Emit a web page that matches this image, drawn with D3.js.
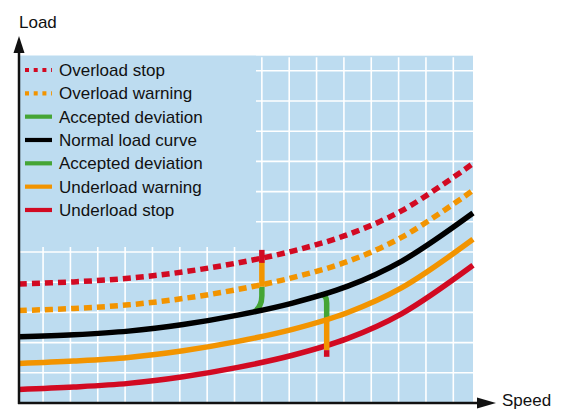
<!DOCTYPE html>
<html>
<head>
<meta charset="utf-8">
<script src="https://cdn.jsdelivr.net/npm/d3@7"></script>
<style>
  html, body { margin: 0; padding: 0; background: #fff; }
  svg { display: block; }
  text { font-family: "Liberation Sans", Arial, sans-serif; fill: #111; }
</style>
</head>
<body>
<svg id="chart" width="566" height="410"></svg>
<script>
// ---- data (speed in grid units from the origin, load in grid units) ----
const speeds           = [0,    2,    4,    6,    8,    10,   12,   14,   16.6];
const overloadStop     = [3.94, 4.01, 4.13, 4.34, 4.64, 5.03, 5.57, 6.37, 7.93];
const overloadWarning  = [3.06, 3.13, 3.25, 3.46, 3.76, 4.15, 4.68, 5.49, 7.04];
const normalLoad       = [2.19, 2.26, 2.38, 2.60, 2.91, 3.31, 3.86, 4.70, 6.29];
const underloadWarning = [1.31, 1.39, 1.51, 1.73, 2.04, 2.44, 2.99, 3.82, 5.42];
const underloadStop    = [0.45, 0.53, 0.65, 0.87, 1.18, 1.58, 2.13, 2.96, 4.56];

// deviation markers: [overload marker, underload marker]
const markerSpeeds     = [8.88, 11.25];
const markerJoinSpeeds = [8.60, 11.07];   // where the green arc meets the normal curve
const markerJoinLoads  = [3.02, 3.58];
const markerGreenEnds  = [3.85, 2.80];
const markerOrangeEnds = [4.74, 1.75];
const markerRedStarts  = [4.64, 1.75];
const markerRedEnds    = [5.07, 1.53];

const legendLabels = ["Overload stop", "Overload warning", "Accepted deviation",
  "Normal load curve", "Accepted deviation", "Underload warning", "Underload stop"];
const legendColors = ["#d20a22", "#f29400", "#45a535", "#000000", "#45a535", "#f29400", "#d20a22"];
const legendDashed = [true, true, false, false, false, false, false];

const axisLabels = ["Load", "Speed"];

// ---- drawing ----
const RED = "#d20a22", ORANGE = "#f29400", GREEN = "#45a535", BLACK = "#000000";
const BG = "#bddcf0";
const svg = d3.select("#chart");

const x = d3.scaleLinear().domain([0, 16.6]).range([19, 473]);
const y = d3.scaleLinear().domain([0, 11.5]).range([403, 55.7]);

// plot background
svg.append("rect").attr("x", x(0)).attr("y", y(11.5))
  .attr("width", x(16.6) - x(0)).attr("height", y(0) - y(11.5)).attr("fill", BG);

// grid
const gx = d3.range(0.88, 16.6, 1);
const gy = d3.range(1, 11.5, 1);
svg.append("g").selectAll("line").data(gx).join("line")
  .attr("x1", d => x(d)).attr("x2", d => x(d))
  .attr("y1", y(11.45)).attr("y2", y(0))
  .attr("stroke", "#fff").attr("stroke-width", 1.6);
svg.append("g").selectAll("line").data(gy).join("line")
  .attr("x1", x(0)).attr("x2", x(16.6))
  .attr("y1", d => y(d)).attr("y2", d => y(d))
  .attr("stroke", "#fff").attr("stroke-width", 1.6);

// legend box hides grid
svg.append("rect").attr("x", x(0) + 1).attr("y", y(11.5))
  .attr("width", 256 - x(0) - 1).attr("height", 247 - y(11.5)).attr("fill", BG);

// green arcs (under curves)
const arcs = svg.append("g");
markerSpeeds.forEach((s, i) => {
  const p = d3.path();
  if (markerGreenEnds[i] > markerJoinLoads[i]) {
    p.moveTo(x(s), y(markerGreenEnds[i]));
    p.lineTo(x(s), y(markerGreenEnds[i]) + 9);
    p.quadraticCurveTo(x(s), y(markerJoinLoads[i]) - 5, x(markerJoinSpeeds[i]), y(markerJoinLoads[i]));
  } else {
    p.moveTo(x(markerJoinSpeeds[i]), y(markerJoinLoads[i]));
    p.quadraticCurveTo(x(s), y(markerJoinLoads[i]), x(s), y(markerJoinLoads[i]) + 8);
    p.lineTo(x(s), y(markerGreenEnds[i]));
  }
  arcs.append("path").attr("d", p.toString()).attr("fill", "none")
    .attr("stroke", GREEN).attr("stroke-width", 5.5);
});

// curves
const line = d3.line().x(d => x(d[0])).y(d => y(d[1])).curve(d3.curveCatmullRom.alpha(0.5));
const series = [
  {vals: underloadStop, color: RED, dash: null},
  {vals: underloadWarning, color: ORANGE, dash: null},
  {vals: normalLoad, color: BLACK, dash: null},
  {vals: overloadWarning, color: ORANGE, dash: "8 5"},
  {vals: overloadStop, color: RED, dash: "8 5"}
];
series.forEach(s => {
  svg.append("path").datum(speeds.map((sp, i) => [sp, s.vals[i]]))
    .attr("d", line).attr("fill", "none")
    .attr("stroke", s.color).attr("stroke-width", 5.5)
    .attr("stroke-dasharray", s.dash);
});

// orange and red marker segments
markerSpeeds.forEach((s, i) => {
  svg.append("line").attr("x1", x(s)).attr("x2", x(s))
    .attr("y1", y(markerGreenEnds[i])).attr("y2", y(markerOrangeEnds[i]))
    .attr("stroke", ORANGE).attr("stroke-width", 5.5);
  svg.append("line").attr("x1", x(s)).attr("x2", x(s))
    .attr("y1", y(markerRedStarts[i])).attr("y2", y(markerRedEnds[i]))
    .attr("stroke", RED).attr("stroke-width", 5.5);
});

// legend
const lg = svg.append("g");
legendLabels.forEach((lab, i) => {
  const cy = 70 + i * 23.33;
  lg.append("line").attr("x1", 25).attr("x2", 52).attr("y1", cy).attr("y2", cy)
    .attr("stroke", legendColors[i]).attr("stroke-width", 4.2)
    .attr("stroke-dasharray", legendDashed[i] ? "4 4.7" : null);
  lg.append("text").attr("x", 59).attr("y", cy).attr("dy", "0.36em")
    .attr("font-size", 17).text(lab);
});

// axes with arrows
svg.append("line").attr("x1", 19).attr("x2", 19).attr("y1", 404).attr("y2", 48)
  .attr("stroke", "#111").attr("stroke-width", 2.5);
svg.append("path").attr("d", "M19,36 L13.5,53 L24.5,53 Z").attr("fill", "#111");
svg.append("line").attr("x1", 18).attr("x2", 482).attr("y1", 403).attr("y2", 403)
  .attr("stroke", "#111").attr("stroke-width", 2.5);
svg.append("path").attr("d", "M496,403 L477,397.5 L477,408.5 Z").attr("fill", "#111");

svg.append("text").attr("x", 19).attr("y", 28).attr("font-size", 17).text(axisLabels[0]);
svg.append("text").attr("x", 502).attr("y", 406).attr("font-size", 17).text(axisLabels[1]);
</script>
</body>
</html>
